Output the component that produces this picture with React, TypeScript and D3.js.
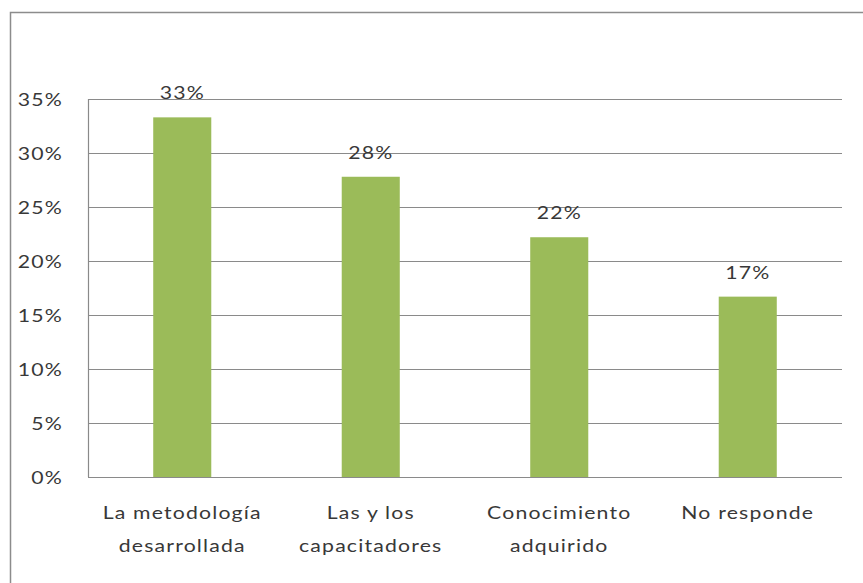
import React, { useEffect, useRef } from 'react';
import * as d3 from 'd3';

// chart values
const categories = ['La metodología desarrollada', 'Las y los capacitadores', 'Conocimiento adquirido', 'No responde'];
const categoryLines = [['La metodología', 'desarrollada'], ['Las y los', 'capacitadores'], ['Conocimiento', 'adquirido'], ['No responde']];
const values = [0.333, 0.278, 0.222, 0.167];
const valueLabels = ['33%', '28%', '22%', '17%'];
const yTicks = [0, 0.05, 0.1, 0.15, 0.2, 0.25, 0.3, 0.35];

const W = 863;
const H = 583;
const FONT = 'Lato, "Open Sans", sans-serif';
const TEXT = '#383838';
const SX = 1.18; // horizontal stretch of the text seen in the reference

const App: React.FC = () => {
  const svgRef = useRef<SVGSVGElement>(null);

  useEffect(() => {
    const svg = d3.select(svgRef.current);
    svg.selectAll('*').remove();

    const plot = { left: 88, right: 842, top: 99, bottom: 477 };

    const x = d3.scaleBand<string>()
      .domain(categories)
      .range([plot.left, plot.right])
      .paddingInner(0.692)
      .paddingOuter(0.346);

    const y = d3.scaleLinear()
      .domain([0, 0.35])
      .range([plot.bottom, plot.top]);

    svg.append('rect')
      .attr('width', W)
      .attr('height', H)
      .attr('fill', 'white');

    // outer chart border (only top and left visible in the crop)
    svg.append('path')
      .attr('d', `M10.5,${H} V12.5 H${W}`)
      .attr('fill', 'none')
      .attr('stroke', '#8c8c8c')
      .attr('stroke-width', 1.5);

    // gridlines
    svg.append('g')
      .selectAll('line')
      .data(yTicks)
      .enter()
      .append('line')
      .attr('x1', plot.left)
      .attr('x2', plot.right)
      .attr('y1', d => Math.round(y(d)) + 0.5)
      .attr('y2', d => Math.round(y(d)) + 0.5)
      .attr('stroke', '#8a8a8a')
      .attr('stroke-width', 1.2);

    // vertical axis line
    svg.append('line')
      .attr('x1', plot.left + 0.5)
      .attr('x2', plot.left + 0.5)
      .attr('y1', y(0.35))
      .attr('y2', y(0))
      .attr('stroke', '#8a8a8a')
      .attr('stroke-width', 1.2);

    const stretchText = (g: any, px: number, py: number, txt: string, anchor: string) =>
      g.append('text')
        .attr('transform', `translate(${px},${py}) scale(${SX},1)`)
        .attr('text-anchor', anchor)
        .style('font-family', FONT)
        .style('font-size', '18px')
        .style('letter-spacing', '1px')
        .style('fill', TEXT)
        .text(txt);

    // y tick labels
    const yLabels = svg.append('g');
    yTicks.forEach(t => {
      stretchText(yLabels, 63, y(t) + 6.5, d3.format('.0%')(t), 'end');
    });

    // bars
    svg.append('g')
      .selectAll('rect')
      .data(values)
      .enter()
      .append('rect')
      .attr('x', (d, i) => x(categories[i]) as number)
      .attr('width', x.bandwidth())
      .attr('y', d => y(d))
      .attr('height', d => y(0) - y(d))
      .attr('fill', '#9bbb59');

    // value labels
    const vLabels = svg.append('g');
    values.forEach((v, i) => {
      const cx = (x(categories[i]) as number) + x.bandwidth() / 2;
      stretchText(vLabels, cx, y(v) - 18, valueLabels[i], 'middle');
    });

    // category labels
    const cLabels = svg.append('g');
    categoryLines.forEach((lines, i) => {
      const cx = (x(categories[i]) as number) + x.bandwidth() / 2;
      lines.forEach((line, j) => {
        stretchText(cLabels, cx, 519 + j * 32.5, line, 'middle');
      });
    });
  }, []);

  return (
    <div style={{ position: 'absolute', left: 0, top: 0 }}>
      <svg ref={svgRef} width={W} height={H} style={{ display: 'block' }}></svg>
    </div>
  );
};

export default App;
